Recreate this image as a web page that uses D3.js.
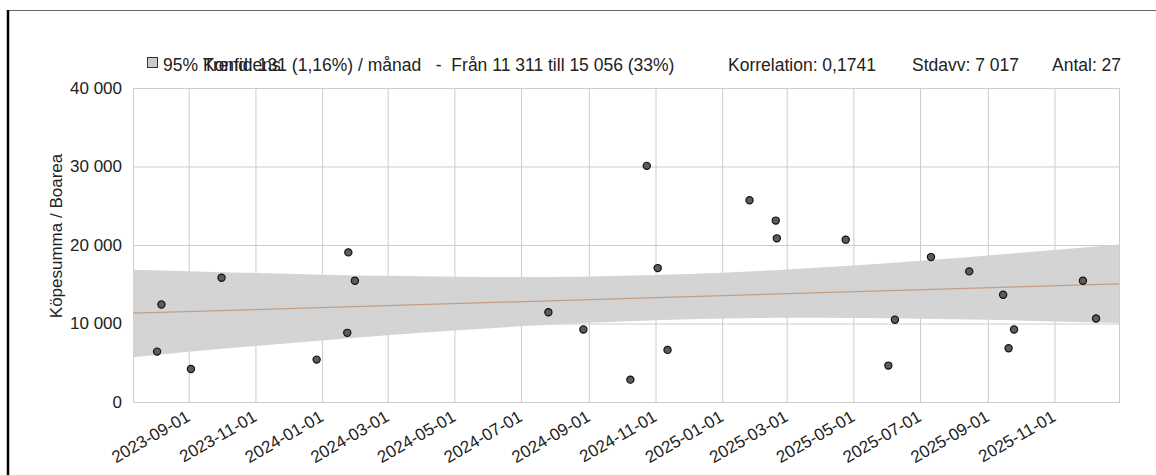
<!DOCTYPE html>
<html>
<head>
<meta charset="utf-8">
<script src="https://cdn.jsdelivr.net/npm/d3@7"></script>
<style>
body{margin:0;background:#fff;}
svg text{font-family:"Liberation Sans",Arial,sans-serif;fill:#222;}
</style>
</head>
<body>
<div id="chart"></div>
<script>
// data
var pointDates = ['2023-08-03','2023-08-07','2023-09-03','2023-10-01','2023-12-27','2024-01-24','2024-01-25','2024-01-31',
	'2024-07-26','2024-08-27','2024-10-09','2024-10-24','2024-11-03','2024-11-12','2025-01-26','2025-02-19','2025-02-20',
	'2025-04-24','2025-06-02','2025-06-08','2025-07-11','2025-08-15','2025-09-15','2025-09-20','2025-09-25','2025-11-27','2025-12-09'];
var pointValues = [6420,12420,4210,15830,5400,8810,19060,15450,
	11440,9230,2850,30080,17060,6640,25700,23110,20850,
	20680,4640,10470,18460,16640,13660,6840,9230,15450,10640];

var bandDates = ['2023-07-12','2023-09-01','2023-11-01','2024-01-01','2024-03-01','2024-05-01','2024-07-01','2024-09-01',
	'2024-11-01','2025-01-01','2025-03-01','2025-05-01','2025-07-01','2025-09-01','2025-11-01','2025-12-30'];
var bandLower = [5700,6400,7130,7840,8490,9100,9640,10100,10420,10630,10720,10700,10620,10470,10270,10060];
var bandUpper = [16850,16650,16420,16220,16070,15960,15920,15990,16170,16470,16880,17390,17990,18660,19360,20060];

var trendDates = ['2023-07-12','2025-12-30'];
var trendValues = [11311,15056];

var xDomain = ['2023-07-12','2025-12-30'];
var xTicks = ['2023-09-01','2023-11-01','2024-01-01','2024-03-01','2024-05-01','2024-07-01','2024-09-01',
	'2024-11-01','2025-01-01','2025-03-01','2025-05-01','2025-07-01','2025-09-01','2025-11-01'];
var yTicks = [0,10000,20000,30000,40000];

var legendLabels = ['95% Konfidens','Trend: 131 (1,16%) / månad   -  Från 11 311 till 15 056 (33%)',
	'Korrelation: 0,1741','Stdavv: 7 017','Antal: 27'];
var yTitle = 'Köpesumma / Boarea';

var width = 1156, height = 475;
var margin = {top: 88, right: 37, bottom: 73, left: 133};
var W = width - margin.left - margin.right;
var H = height - margin.top - margin.bottom;

var parse = d3.timeParse('%Y-%m-%d');
var se = d3.formatLocale({decimal: ',', thousands: ' ', grouping: [3], currency: ['', ' kr']});
var fmt = se.format(',d');

var svg = d3.select('#chart').append('svg')
	.attr('width', width).attr('height', height);

// outer frame (left + top only visible)
svg.append('line').attr('x1', 8).attr('x2', width).attr('y1', 10.5).attr('y2', 10.5)
	.attr('stroke', '#666').attr('stroke-width', 1);
svg.append('line').attr('x1', 8).attr('x2', 8).attr('y1', 10).attr('y2', height)
	.attr('stroke', '#000').attr('stroke-width', 2.5);

var x = d3.scaleTime().domain(xDomain.map(parse)).range([0, W]);
var y = d3.scaleLinear().domain([0, 40000]).range([H, 0]);

var g = svg.append('g')
	.attr('transform', 'translate(' + [margin.left, margin.top] + ')');

// grid + axes
var yAxis = g.append('g')
	.call(d3.axisLeft(y).tickValues(yTicks).tickSize(-W).tickPadding(11).tickFormat(fmt));
yAxis.select('.domain').remove();
yAxis.selectAll('line').attr('stroke', '#ccc');
yAxis.selectAll('text').attr('font-size', 17).attr('fill', '#222');

var xAxis = g.append('g')
	.attr('transform', 'translate(0,' + H + ')')
	.call(d3.axisBottom(x).tickValues(xTicks.map(parse)).tickSize(-H).tickFormat(d3.timeFormat('%Y-%m-%d')));
xAxis.select('.domain').remove();
xAxis.selectAll('line').attr('stroke', '#ccc');
xAxis.selectAll('text')
	.attr('font-size', 17).attr('fill', '#222')
	.attr('x', 0).attr('y', 0).attr('dy', 0)
	.attr('text-anchor', 'end')
	.attr('transform', 'translate(2,18) rotate(-30)');

// plot frame
g.append('rect').attr('x', 0.5).attr('y', 0.5).attr('width', W).attr('height', H)
	.attr('fill', 'none').attr('stroke', '#ccc');

// confidence band
var band = bandDates.map(function(d, i){ return {date: parse(d), lo: bandLower[i], hi: bandUpper[i]}; });
g.append('path')
	.datum(band)
	.attr('d', d3.area().curve(d3.curveMonotoneX)
		.x(function(d){ return x(d.date); })
		.y0(function(d){ return y(d.lo); })
		.y1(function(d){ return y(d.hi); }))
	.attr('fill', '#d4d4d4');

// trend
var trend = trendDates.map(function(d, i){ return {date: parse(d), v: trendValues[i]}; });
g.append('path')
	.datum(trend)
	.attr('d', d3.line().x(function(d){ return x(d.date); }).y(function(d){ return y(d.v); }))
	.attr('fill', 'none')
	.attr('stroke', '#c59e82')
	.attr('stroke-width', 1.3);

// points
var pts = pointDates.map(function(d, i){ return {date: parse(d), v: pointValues[i]}; });
g.selectAll('circle.pt')
	.data(pts)
	.enter().append('circle')
	.attr('class', 'pt')
	.attr('cx', function(d){ return x(d.date); })
	.attr('cy', function(d){ return y(d.v); })
	.attr('r', 3.6)
	.attr('fill', '#5c5c5c')
	.attr('stroke', '#111')
	.attr('stroke-width', 1.2);

// y title
svg.append('text')
	.attr('transform', 'translate(62,236) rotate(-90)')
	.attr('text-anchor', 'middle')
	.attr('font-size', 17)
	.text(yTitle);

// legend (the two first entries overlap in the original too)
var legend = svg.append('g').attr('transform', 'translate(0,71)');
legend.append('rect')
	.attr('x', 147.5).attr('y', -13.5).attr('width', 10).attr('height', 10)
	.attr('fill', '#ccc').attr('stroke', '#333');
var legendX = [163, 203, 728, 912, 1052];
legend.selectAll('text')
	.data(legendLabels)
	.enter().append('text')
	.attr('x', function(d, i){ return legendX[i]; })
	.attr('y', 0)
	.attr('font-size', 17.5)
	.style('white-space', 'pre')
	.text(function(d){ return d; });
</script>
</body>
</html>
